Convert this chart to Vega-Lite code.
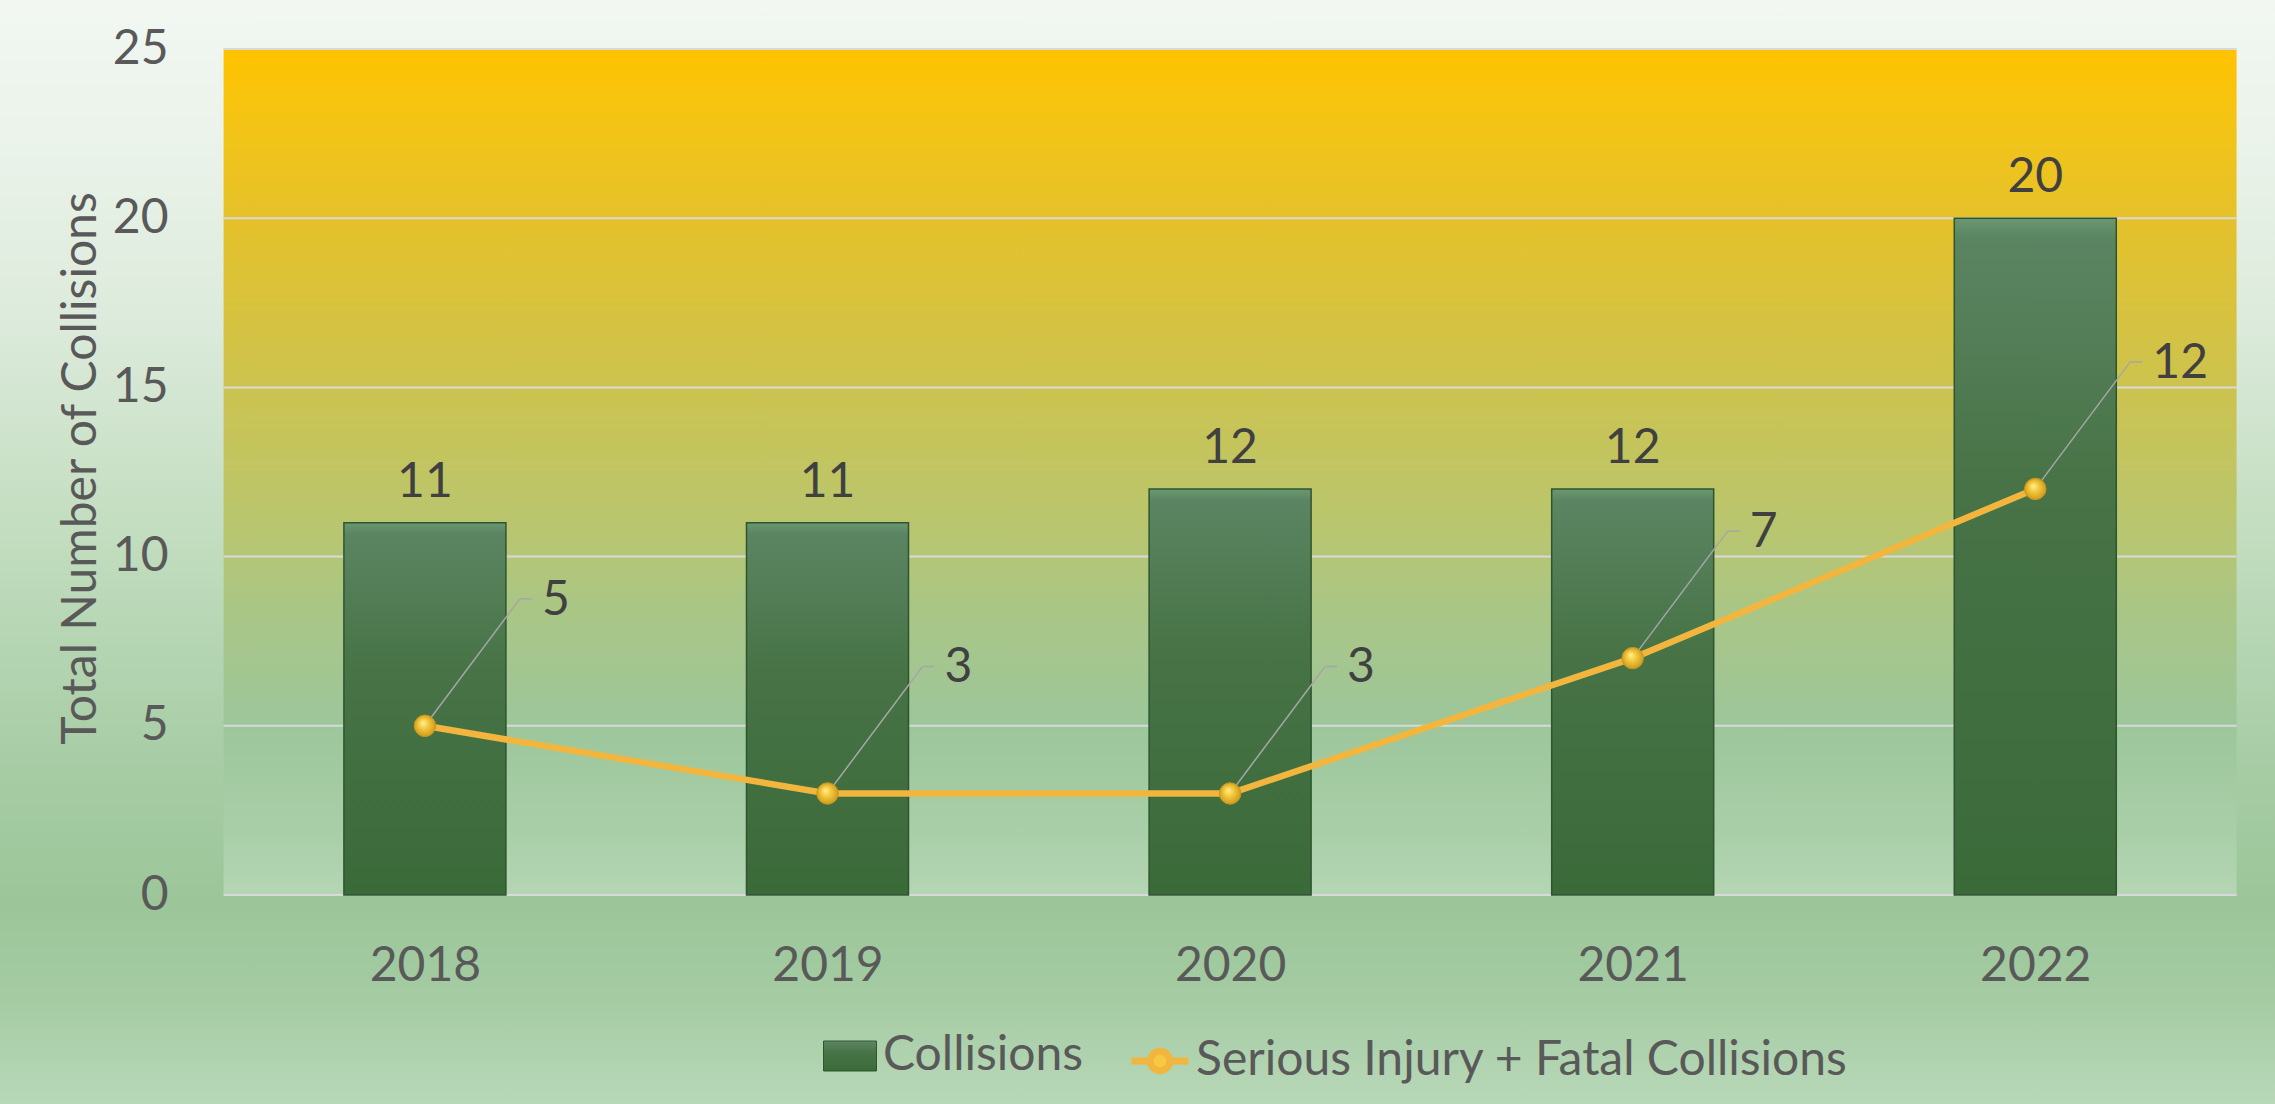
{
  "$schema": "https://vega.github.io/schema/vega-lite/v6.json",
  "width": 2275,
  "height": 1104,
  "autosize": {"type": "none"},
  "padding": 0,
  "background": "#ffffff",
  "view": {
    "stroke": null,
    "fill": {
      "gradient": "linear", "x1": 0, "y1": 0, "x2": 0, "y2": 1,
      "stops": [
        {"offset": 0, "color": "#f2f7f2"},
        {"offset": 0.15, "color": "#e9f2e8"},
        {"offset": 0.3, "color": "#dbeada"},
        {"offset": 0.5, "color": "#c0dcbd"},
        {"offset": 0.7, "color": "#a6cca4"},
        {"offset": 0.82, "color": "#9cc69a"},
        {"offset": 0.9, "color": "#a4cba2"},
        {"offset": 1, "color": "#b8d8b8"}
      ]
    }
  },
  "config": {
    "font": "Lato",
    "axis": {"labelFont": "Lato", "titleFont": "Lato"},
    "legend": {"labelFont": "Lato", "labelLimit": 0}
  },
  "datasets": {
    "main": [
      {"year": 2018, "collisions": 11, "serious": 5},
      {"year": 2019, "collisions": 11, "serious": 3},
      {"year": 2020, "collisions": 12, "serious": 3},
      {"year": 2021, "collisions": 12, "serious": 7},
      {"year": 2022, "collisions": 20, "serious": 12}
    ],
    "grid": [
      {"tick": 0}, {"tick": 5}, {"tick": 10}, {"tick": 15}, {"tick": 20}, {"tick": 25}
    ]
  },
  "layer": [
    {
      "data": {"values": [{"area": "plot"}]},
      "mark": {
        "type": "rect",
        "fill": {
          "gradient": "linear", "x1": 0, "y1": 0, "x2": 0, "y2": 1,
          "stops": [
            {"offset": 0, "color": "#ffc300"},
            {"offset": 0.1, "color": "#f2c418"},
            {"offset": 0.2, "color": "#e5c12a"},
            {"offset": 0.4, "color": "#ccc34f"},
            {"offset": 0.58, "color": "#b7c672"},
            {"offset": 0.65, "color": "#abc683"},
            {"offset": 0.8, "color": "#9dc69b"},
            {"offset": 0.93, "color": "#a9cfa8"},
            {"offset": 1, "color": "#b5d6b4"}
          ]
        }
      },
      "encoding": {
        "x": {
          "datum": 2017.5, "type": "quantitative",
          "scale": {"domain": [2016.957, 2022.583], "nice": false, "zero": false},
          "axis": {
            "orient": "bottom", "offset": -209, "values": [2018, 2019, 2020, 2021, 2022],
            "format": "d", "title": null, "domain": false, "ticks": false, "tickSize": 0,
            "grid": false, "labelPadding": 47, "labelFontSize": 48, "labelColor": "#595959",
            "labelOverlap": false, "labelFlush": false
          }
        },
        "x2": {"datum": 2022.5},
        "y": {
          "datum": 0, "type": "quantitative",
          "scale": {"domain": [-6.176, 26.448], "nice": false, "zero": false},
          "axis": {
            "orient": "left", "offset": -219, "values": [0, 5, 10, 15, 20, 25],
            "title": "Total Number of Collisions", "domain": false, "ticks": false, "tickSize": 0,
            "grid": false, "labelPadding": 51, "labelFontSize": 48, "labelColor": "#595959",
            "labelOverlap": false, "labelFlush": false,
            "titleFontSize": 48, "titleFontWeight": "normal", "titleColor": "#595959",
            "titleAngle": -90, "titleAlign": "center", "titleBaseline": "alphabetic",
            "titleX": -124, "titleY": 468
          }
        },
        "y2": {"datum": 25}
      }
    },
    {
      "data": {"name": "grid"},
      "mark": {"type": "rule", "color": "#d9d9d9", "strokeWidth": 2},
      "encoding": {
        "x": {"datum": 2017.5, "type": "quantitative"},
        "x2": {"datum": 2022.5},
        "y": {"field": "tick", "type": "quantitative"}
      }
    },
    {
      "data": {"name": "main"},
      "mark": {
        "type": "bar", "width": 162, "strokeWidth": 1.5,
        "fill": {
          "gradient": "linear", "x1": 0, "y1": 0, "x2": 0, "y2": 1,
          "stops": [
            {"offset": 0, "color": "#6a9772"},
            {"offset": 0.03, "color": "#5b8562"},
            {"offset": 0.4, "color": "#477346"},
            {"offset": 1, "color": "#3b6a39"}
          ]
        }
      },
      "encoding": {
        "x": {"field": "year", "type": "quantitative"},
        "y": {"field": "collisions", "type": "quantitative"},
        "y2": {"datum": 0},
        "stroke": {
          "datum": "Collisions", "type": "nominal",
          "scale": {"domain": ["Collisions"], "range": ["#2e552f"]},
          "legend": {
            "orient": "none", "legendX": 823, "legendY": 1029, "title": null,
            "symbolType": "M-1,-0.566H1V0.566H-1Z", "symbolSize": 2809,
            "symbolStrokeWidth": 1,
            "labelFontSize": 48, "labelColor": "#595959", "labelOffset": 6,
            "encode": {"symbols": {"update": {"fill": {"value": "#477346"}, "strokeWidth": {"value": 1}}}}
          }
        }
      }
    },
    {
      "data": {"name": "main"},
      "mark": {"type": "text", "baseline": "alphabetic", "dy": -26, "fontSize": 48, "color": "#404040"},
      "encoding": {
        "x": {"field": "year", "type": "quantitative"},
        "y": {"field": "collisions", "type": "quantitative"},
        "text": {"field": "collisions", "type": "quantitative"}
      }
    },
    {
      "data": {"name": "main"},
      "mark": {"type": "rule", "color": "#a6a6a6", "strokeWidth": 1.5, "x2Offset": 95, "y2Offset": -127},
      "encoding": {
        "x": {"field": "year", "type": "quantitative"},
        "y": {"field": "serious", "type": "quantitative"},
        "x2": {"field": "year"},
        "y2": {"field": "serious"}
      }
    },
    {
      "data": {"name": "main"},
      "mark": {"type": "rule", "color": "#a6a6a6", "strokeWidth": 1.5, "xOffset": 95, "yOffset": -127, "x2Offset": 107, "y2Offset": -127},
      "encoding": {
        "x": {"field": "year", "type": "quantitative"},
        "y": {"field": "serious", "type": "quantitative"},
        "x2": {"field": "year"},
        "y2": {"field": "serious"}
      }
    },
    {
      "data": {"name": "main"},
      "mark": {"type": "line", "strokeWidth": 6.5},
      "encoding": {
        "x": {"field": "year", "type": "quantitative"},
        "y": {"field": "serious", "type": "quantitative"},
        "color": {
          "datum": "Serious Injury + Fatal Collisions", "type": "nominal",
          "scale": {"domain": ["Serious Injury + Fatal Collisions"], "range": ["#f2b63e"]},
          "legend": {
            "orient": "none", "legendX": 1128, "legendY": 1029, "title": null,
            "symbolType": "M-1,0H-0.42M0.42,0H1M-0.34,0A0.34,0.34,0,1,1,0.34,0A0.34,0.34,0,1,1,-0.34,0Z",
            "symbolSize": 3249, "symbolStrokeWidth": 7, "symbolFillColor": "#f7c843",
            "labelFontSize": 48, "labelColor": "#595959", "labelOffset": 4,
            "encode": {"symbols": {"update": {"fill": {"value": "#f7c843"}, "stroke": {"value": "#f2b63e"}, "strokeWidth": {"value": 7}}}}
          }
        }
      }
    },
    {
      "data": {"name": "main"},
      "mark": {
        "type": "point", "filled": true, "size": 460, "opacity": 1,
        "fill": {
          "gradient": "radial", "x1": 0.4, "y1": 0.35, "r1": 0, "x2": 0.5, "y2": 0.5, "r2": 0.55,
          "stops": [
            {"offset": 0, "color": "#fff0a0"},
            {"offset": 0.35, "color": "#f8cf45"},
            {"offset": 1, "color": "#c99518"}
          ]
        },
        "stroke": "#c9951a", "strokeWidth": 1
      },
      "encoding": {
        "x": {"field": "year", "type": "quantitative"},
        "y": {"field": "serious", "type": "quantitative"}
      }
    },
    {
      "data": {"name": "main"},
      "mark": {"type": "text", "align": "left", "baseline": "middle", "dx": 117, "dy": -125, "fontSize": 48, "color": "#404040"},
      "encoding": {
        "x": {"field": "year", "type": "quantitative"},
        "y": {"field": "serious", "type": "quantitative"},
        "text": {"field": "serious", "type": "quantitative"}
      }
    }
  ]
}
